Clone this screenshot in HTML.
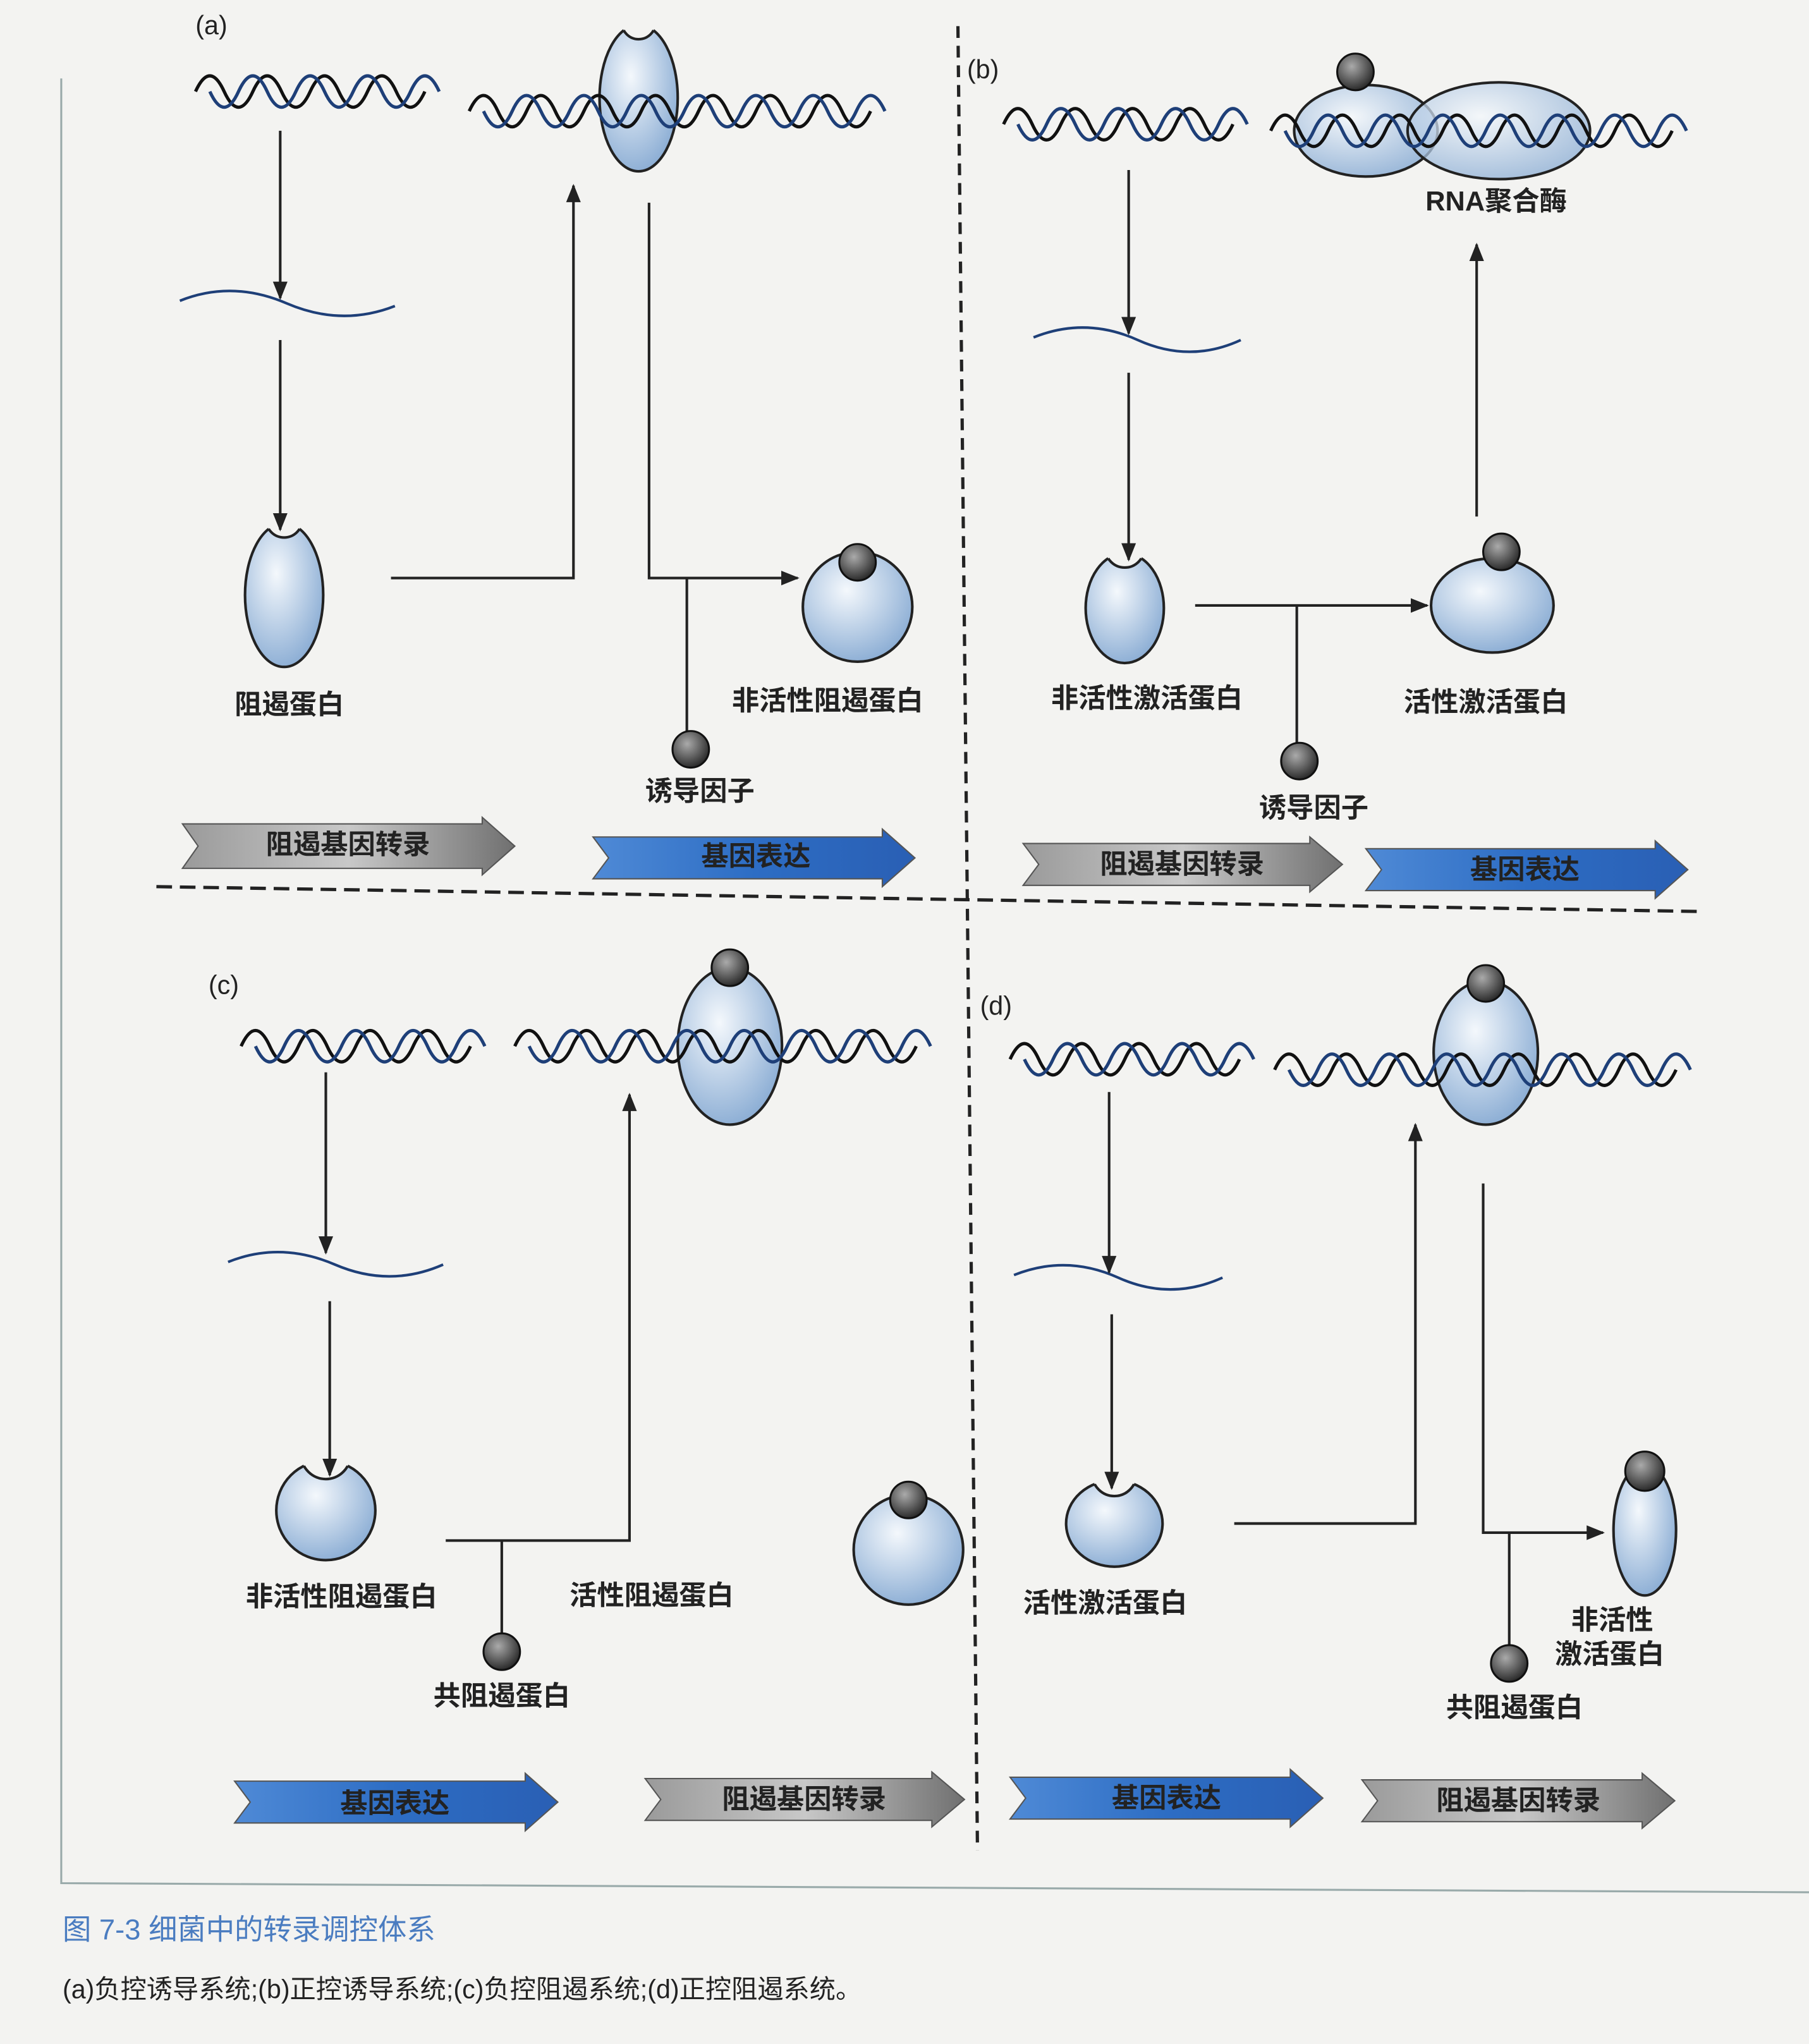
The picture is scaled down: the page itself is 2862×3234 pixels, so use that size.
<!DOCTYPE html>
<html><head><meta charset="utf-8"><style>
html,body{margin:0;padding:0;background:#f3f3f1}
svg{display:block}
text{font-family:"Liberation Sans","Noto Sans CJK SC",sans-serif;fill:#222}
</style></head><body>
<svg width="2862" height="3234" viewBox="0 0 1388 1563" preserveAspectRatio="none" xmlns="http://www.w3.org/2000/svg">
<defs>
<radialGradient id="bl" cx="0.4" cy="0.35" r="0.7"><stop offset="0" stop-color="#f4f8fc"/><stop offset="1" stop-color="#88abd3"/></radialGradient>
<radialGradient id="ball" cx="0.4" cy="0.35" r="0.7"><stop offset="0" stop-color="#aaa"/><stop offset="1" stop-color="#222"/></radialGradient>
<linearGradient id="gr" x1="0" y1="0" x2="1" y2="0"><stop offset="0" stop-color="#9a9a9a"/><stop offset="0.5" stop-color="#c8c8c8"/><stop offset="1" stop-color="#707070"/></linearGradient>
<linearGradient id="bu" x1="0" y1="0" x2="1" y2="0"><stop offset="0" stop-color="#4f8ad6"/><stop offset="0.5" stop-color="#2d6dc4"/><stop offset="1" stop-color="#2a5fb4"/></linearGradient>
<marker id="ar" viewBox="0 0 10 10" refX="9" refY="5" markerWidth="7" markerHeight="7" orient="auto"><path d="M0,1 L10,5 L0,9 z" fill="#222"/></marker>
<g id="s8"><path d="M0,0 q11,-24 22,0 t22,0 t22,0 t22,0 t22,0 t22,0 t22,0 t22,0" fill="none" stroke="#111" stroke-width="2.5"/><path d="M11,0 q11,24 22,0 t22,0 t22,0 t22,0 t22,0 t22,0 t22,0 t22,0" fill="none" stroke="#1e3f78" stroke-width="2.5"/></g>
<g id="s14"><path d="M0,0 q11,-24 22,0 t22,0 t22,0 t22,0 t22,0 t22,0 t22,0 t22,0 t22,0 t22,0 t22,0 t22,0 t22,0 t22,0" fill="none" stroke="#111" stroke-width="2.5"/><path d="M11,0 q11,24 22,0 t22,0 t22,0 t22,0 t22,0 t22,0 t22,0 t22,0 t22,0 t22,0 t22,0 t22,0 t22,0 t22,0" fill="none" stroke="#1e3f78" stroke-width="2.5"/></g>
<clipPath id="c1"><ellipse cx="490" cy="75" rx="30" ry="56"/></clipPath>
<clipPath id="c2"><ellipse cx="218" cy="455" rx="30" ry="55"/></clipPath>
<clipPath id="c3"><ellipse cx="863" cy="465" rx="30" ry="42"/></clipPath>
<clipPath id="c4"><circle cx="250" cy="1155" r="38"/></clipPath>
<clipPath id="c5"><ellipse cx="855" cy="1165" rx="37" ry="33"/></clipPath>
</defs>
<rect width="1388" height="1563" fill="#f3f3f1"/>
<path d="M47,60 V1440 L1388,1447" fill="none" stroke="#9aa" stroke-width="1.5"/>
<line x1="735" y1="20" x2="750" y2="1415" stroke="#222" stroke-width="2.5" stroke-dasharray="9,6"/>
<line x1="120" y1="678" x2="1305" y2="697" stroke="#222" stroke-width="2.5" stroke-dasharray="12,6"/>
<g font-size="20">
<text x="150" y="26">(a)</text><text x="742" y="60">(b)</text><text x="160" y="760">(c)</text><text x="752" y="776">(d)</text>
</g>
<g stroke="#222" stroke-width="2" fill="url(#bl)">
<ellipse cx="490" cy="75" rx="30" ry="56"/>
<ellipse cx="218" cy="455" rx="30" ry="55"/>
<circle cx="658" cy="464" r="42"/>
<ellipse cx="1048" cy="100" rx="55" ry="35" fill-opacity="0.85"/>
<ellipse cx="1150" cy="100" rx="70" ry="37" fill-opacity="0.75"/>
<ellipse cx="863" cy="465" rx="30" ry="42"/>
<ellipse cx="1145" cy="463" rx="47" ry="36"/>
<ellipse cx="560" cy="800" rx="40" ry="60"/>
<circle cx="250" cy="1155" r="38"/>
<circle cx="697" cy="1185" r="42"/>
<ellipse cx="1140" cy="805" rx="40" ry="55"/>
<ellipse cx="855" cy="1165" rx="37" ry="33"/>
<ellipse cx="1262" cy="1170" rx="24" ry="50"/>
</g>
<g fill="#f3f3f1" stroke="none">
<circle cx="490" cy="17" r="13"/><circle cx="218" cy="397" r="14"/><circle cx="863" cy="419" r="15"/>
<circle cx="250" cy="1112" r="19"/><circle cx="855" cy="1127" r="17"/>
</g>
<g fill="none" stroke="#222" stroke-width="2">
<circle cx="490" cy="17" r="13" clip-path="url(#c1)"/><circle cx="218" cy="397" r="14" clip-path="url(#c2)"/><circle cx="863" cy="419" r="15" clip-path="url(#c3)"/>
<circle cx="250" cy="1112" r="19" clip-path="url(#c4)"/><circle cx="855" cy="1127" r="17" clip-path="url(#c5)"/>
</g>
<g stroke="#222" stroke-width="2" fill="none">
<use href="#s8" x="150" y="70"/><use href="#s14" x="360" y="85"/>
<path d="M138,230 q40,-16 82,2 t83,2" stroke="#1e3f78"/>
<line x1="215" y1="100" x2="215" y2="228" marker-end="url(#ar)"/>
<line x1="215" y1="260" x2="215" y2="405" marker-end="url(#ar)"/>
<path d="M300,442 H440 V142" marker-end="url(#ar)"/>
<path d="M498,155 V442 H612" marker-end="url(#ar)"/>
<line x1="527" y1="442" x2="527" y2="560"/>
<use href="#s8" x="770" y="95"/><use href="#s14" x="975" y="100"/>
<path d="M793,258 q40,-16 80,2 t79,0" stroke="#1e3f78"/>
<line x1="866" y1="130" x2="866" y2="255" marker-end="url(#ar)"/>
<line x1="866" y1="285" x2="866" y2="428" marker-end="url(#ar)"/>
<line x1="1133" y1="395" x2="1133" y2="187" marker-end="url(#ar)"/>
<line x1="917" y1="463" x2="1095" y2="463" marker-end="url(#ar)"/>
<line x1="995" y1="463" x2="995" y2="570"/>
<use href="#s8" x="185" y="800"/><use href="#s14" x="395" y="800"/>
<path d="M175,965 q40,-16 82,2 t83,0" stroke="#1e3f78"/>
<line x1="250" y1="820" x2="250" y2="958" marker-end="url(#ar)"/>
<line x1="253" y1="995" x2="253" y2="1128" marker-end="url(#ar)"/>
<path d="M342,1178 H483 V837" marker-end="url(#ar)"/>
<line x1="385" y1="1178" x2="385" y2="1250"/>
<use href="#s8" x="775" y="810"/><use href="#s14" x="978" y="818"/>
<path d="M778,975 q40,-16 80,2 t80,0" stroke="#1e3f78"/>
<line x1="851" y1="835" x2="851" y2="973" marker-end="url(#ar)"/>
<line x1="853" y1="1005" x2="853" y2="1138" marker-end="url(#ar)"/>
<path d="M947,1165 H1086 V860" marker-end="url(#ar)"/>
<path d="M1138,905 V1172 H1230" marker-end="url(#ar)"/>
<line x1="1158" y1="1172" x2="1158" y2="1260"/>
</g>
<g stroke="#111" stroke-width="1.5" fill="url(#ball)">
<circle cx="658" cy="430" r="14"/><circle cx="530" cy="573" r="14"/>
<circle cx="1040" cy="55" r="14"/><circle cx="997" cy="582" r="14"/><circle cx="1152" cy="422" r="14"/>
<circle cx="560" cy="740" r="14"/><circle cx="385" cy="1263" r="14"/><circle cx="697" cy="1147" r="14"/>
<circle cx="1140" cy="752" r="14"/><circle cx="1262" cy="1125" r="15"/><circle cx="1158" cy="1272" r="14"/>
</g>
<g stroke="#555" stroke-width="1">
<polygon points="140,630 370,630 370,625 395,647 370,669 370,664 140,664 152,647" fill="url(#gr)"/>
<polygon points="455,640 677,640 677,634 702,656 677,678 677,672 455,672 467,656" fill="url(#bu)"/>
<polygon points="785,645 1005,645 1005,640 1030,661 1005,682 1005,677 785,677 797,661" fill="url(#gr)"/>
<polygon points="1048,649 1270,649 1270,643 1295,665 1270,687 1270,681 1048,681 1060,665" fill="url(#bu)"/>
<polygon points="180,1362 403,1362 403,1356 428,1378 403,1400 403,1394 180,1394 192,1378" fill="url(#bu)"/>
<polygon points="495,1360 715,1360 715,1355 740,1376 715,1397 715,1392 495,1392 507,1376" fill="url(#gr)"/>
<polygon points="775,1359 990,1359 990,1353 1015,1375 990,1397 990,1391 775,1391 787,1375" fill="url(#bu)"/>
<polygon points="1045,1361 1260,1361 1260,1356 1285,1377 1260,1398 1260,1393 1045,1393 1057,1377" fill="url(#gr)"/>
</g>
<g font-size="21" text-anchor="middle" font-weight="bold">
<text x="267" y="653">阻遏基因转录</text><text x="580" y="662">基因表达</text>
<text x="907" y="668">阻遏基因转录</text><text x="1170" y="672">基因表达</text>
<text x="303" y="1386">基因表达</text><text x="617" y="1383">阻遏基因转录</text>
<text x="895" y="1382">基因表达</text><text x="1165" y="1384">阻遏基因转录</text>
</g>
<g font-size="21" text-anchor="middle" font-weight="bold">
<text x="222" y="546">阻遏蛋白</text><text x="635" y="543">非活性阻遏蛋白</text><text x="537" y="612">诱导因子</text>
<text x="1148" y="161">RNA聚合酶</text><text x="880" y="541">非活性激活蛋白</text><text x="1008" y="625">诱导因子</text><text x="1140" y="544">活性激活蛋白</text>
<text x="262" y="1228">非活性阻遏蛋白</text><text x="385" y="1304">共阻遏蛋白</text><text x="500" y="1227">活性阻遏蛋白</text>
<text x="848" y="1233">活性激活蛋白</text><text x="1237" y="1246">非活性</text><text x="1235" y="1272">激活蛋白</text><text x="1162" y="1313">共阻遏蛋白</text>
</g>
<text x="48" y="1483" font-size="22" style="fill:#4a7cc0">图 7-3   细菌中的转录调控体系</text>
<text x="48" y="1528" font-size="20">(a)负控诱导系统;(b)正控诱导系统;(c)负控阻遏系统;(d)正控阻遏系统。</text>
</svg>
</body></html>
